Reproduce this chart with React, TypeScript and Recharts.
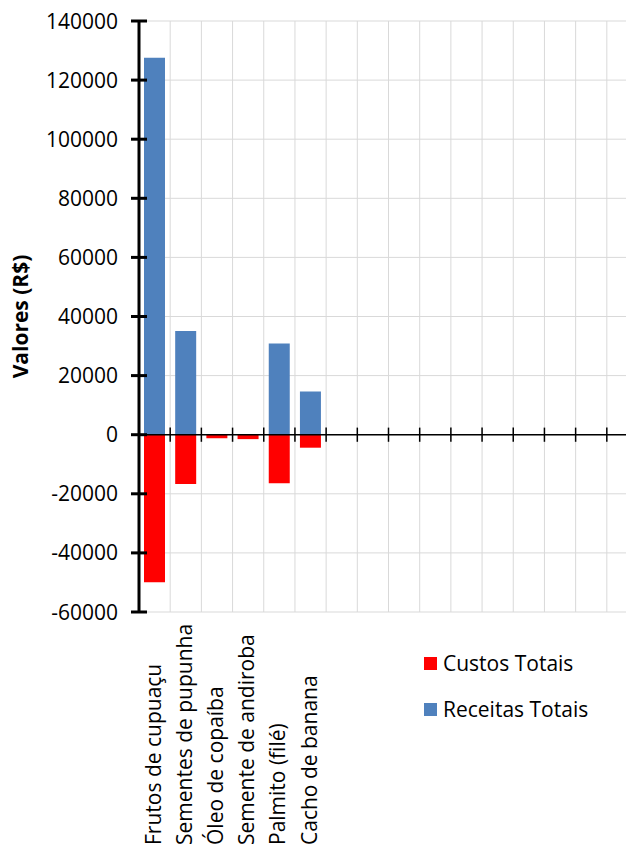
import { BarChart, Bar, XAxis, YAxis, CartesianGrid, ReferenceLine, Legend, Label } from 'recharts';

const categories = [
  'Frutos de cupuaçu',
  'Sementes de pupunha',
  'Óleo de copaíba',
  'Semente de andiroba',
  'Palmito (filé)',
  'Cacho de banana',
  '', '', '', '', '', '', '', '', '', '',
];
const custosTotais = [-49900, -16700, -1200, -1500, -16400, -4400];
const receitasTotais = [127600, 35100, 0, 0, 30900, 14600];
const yTicks = [-60000, -40000, -20000, 0, 20000, 40000, 60000, 80000, 100000, 120000, 140000];
// category boundaries (0..16) for the grid and the tick marks on the zero line
const slotBounds = categories.map((_, i) => i).concat(categories.length);

const FONT = "'Open Sans', sans-serif";

const data = categories.map((name, i) => ({
  id: i,
  slot: i + 0.5,
  name,
  custos: custosTotais[i] ?? null,
  receitas: receitasTotais[i] ?? null,
}));

function YTick({ x, y, payload }: any) {
  return (
    <g>
      <line x1={x - 8} x2={x + 8} y1={y} y2={y} stroke="#000" strokeWidth={3} />
      <text x={x - 21} y={y} dy="0.36em" textAnchor="end" fontFamily={FONT} fontSize={21} fill="#000">
        {payload.value}
      </text>
    </g>
  );
}

function XTick({ x, y, payload }: any) {
  const name = categories[payload.value];
  if (!name) return null;
  const tx = x + 6;
  const ty = y + 233;
  return (
    <text x={tx} y={ty} transform={`rotate(-90, ${tx}, ${ty})`} textAnchor="start" fontFamily={FONT} fontSize={21} fill="#000">
      {name}
    </text>
  );
}

function EmptyTick() {
  return <g />;
}

function YLabel({ viewBox }: any) {
  const x = viewBox.x + 28;
  const y = viewBox.y + viewBox.height / 2;
  return (
    <text x={x} y={y} transform={`rotate(-90, ${x}, ${y})`} textAnchor="middle" fontFamily={FONT} fontSize={21} fontWeight={700} fill="#000">
      Valores (R$)
    </text>
  );
}

function LegendContent({ payload }: any) {
  return (
    <div style={{ fontFamily: FONT, fontSize: 21, color: '#000' }}>
      {(payload || []).map((p: any) => (
        <div key={p.value} style={{ display: 'flex', alignItems: 'center', height: 46, whiteSpace: 'nowrap' }}>
          <span style={{ width: 13, height: 13, background: p.color, marginRight: 6, display: 'inline-block' }} />
          {p.value}
        </div>
      ))}
    </div>
  );
}

export default function App() {
  return (
    <div style={{ position: 'fixed', left: 0, top: 0, width: 626, height: 852, overflow: 'hidden', background: '#fff' }}>
      <BarChart
        width={660}
        height={852}
        data={data}
        stackOffset="sign"
        margin={{ top: 21, right: 22, bottom: 0, left: 0 }}
      >
        <CartesianGrid xAxisId="b" stroke="#d9d9d9" strokeWidth={1} />
        <XAxis
          dataKey="id"
          type="category"
          height={240}
          interval={0}
          tickSize={0}
          tickMargin={0}
          tickLine={false}
          axisLine={false}
          tick={<XTick />}
        />
        <XAxis
          xAxisId="b"
          dataKey="slot"
          type="number"
          domain={[0, categories.length]}
          ticks={slotBounds}
          interval={0}
          allowDataOverflow
          height={0}
          tickSize={0}
          tick={<EmptyTick />}
          tickLine={false}
          axisLine={false}
        />
        <YAxis
          width={139}
          domain={[-60000, 140000]}
          ticks={yTicks}
          interval={0}
          tickSize={0}
          tickMargin={0}
          tickLine={false}
          axisLine={{ stroke: '#000', strokeWidth: 3 }}
          tick={<YTick />}
        >
          <Label content={<YLabel />} />
        </YAxis>
        <Bar dataKey="custos" name="Custos Totais" stackId="a" fill="#FF0000" barSize={21} isAnimationActive={false} />
        <Bar dataKey="receitas" name="Receitas Totais" stackId="a" fill="#4F81BD" barSize={21} isAnimationActive={false} />
        <ReferenceLine xAxisId="b" y={0} stroke="#000" strokeWidth={1.5} />
        {slotBounds.slice(1).map((b) => (
          <ReferenceLine
            key={b}
            xAxisId="b"
            segment={[{ x: b, y: -2400 }, { x: b, y: 2400 }]}
            stroke="#000"
            strokeWidth={1.5}
          />
        ))}
        <Legend
          layout="vertical"
          align="center"
          verticalAlign="middle"
          content={<LegendContent />}
          wrapperStyle={{ left: 424, top: 640, width: 'auto' }}
        />
      </BarChart>
    </div>
  );
}
